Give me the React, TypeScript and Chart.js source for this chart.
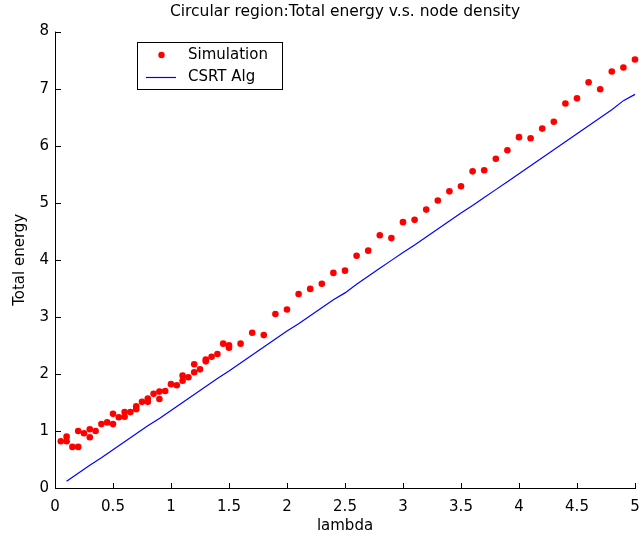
import React, { useEffect, useRef } from 'react';
import { Chart, registerables } from 'chart.js';

Chart.register(...registerables);

const titleText = 'Circular region:Total energy v.s. node density';
const xTitle = 'lambda';
const yTitle = 'Total energy';
const simLabel = 'Simulation';
const algLabel = 'CSRT Alg';

const xTickValues = [0, 0.5, 1, 1.5, 2, 2.5, 3, 3.5, 4, 4.5, 5];
const yTickValues = [0, 1, 2, 3, 4, 5, 6, 7, 8];

const simX = [
  0.05, 0.1, 0.1, 0.15, 0.2, 0.2, 0.25, 0.3, 0.3, 0.35, 0.4, 0.45, 0.5, 0.5, 0.55,
  0.6, 0.6, 0.65, 0.7, 0.7, 0.75, 0.8, 0.8, 0.85, 0.9, 0.9, 0.95, 1.0, 1.05, 1.1,
  1.1, 1.15, 1.2, 1.2, 1.25, 1.3, 1.3, 1.35, 1.4, 1.45, 1.5, 1.5, 1.6, 1.7, 1.8,
  1.9, 2.0, 2.1, 2.2, 2.3, 2.4, 2.5, 2.6, 2.7, 2.8, 2.9, 3.0, 3.1, 3.2, 3.3,
  3.4, 3.5, 3.6, 3.7, 3.8, 3.9, 4.0, 4.1, 4.2, 4.3, 4.4, 4.5, 4.6, 4.7, 4.8,
  4.9, 5.0,
];
const simY = [
  0.82, 0.82, 0.9, 0.72, 0.72, 1.0, 0.96, 1.03, 0.89, 1.0, 1.12, 1.15, 1.12, 1.3, 1.24,
  1.25, 1.33, 1.33, 1.38, 1.43, 1.51, 1.51, 1.57, 1.65, 1.69, 1.56, 1.7, 1.82, 1.8, 1.97,
  1.88, 1.94, 2.17, 2.03, 2.08, 2.25, 2.22, 2.3, 2.35, 2.53, 2.5, 2.46, 2.53, 2.72, 2.68,
  3.05, 3.13, 3.4, 3.49, 3.58, 3.77, 3.81, 4.07, 4.16, 4.43, 4.38, 4.66, 4.7, 4.88, 5.04,
  5.2, 5.29, 5.55, 5.57, 5.77, 5.92, 6.15, 6.13, 6.3, 6.42, 6.74, 6.83, 7.11, 6.99, 7.3,
  7.37, 7.51,
];

const algX = [
  0.1, 0.2, 0.3, 0.4, 0.5, 0.6, 0.7, 0.8, 0.9, 1.0, 1.1, 1.2, 1.3, 1.4, 1.5, 1.6, 1.7,
  1.8, 1.9, 2.0, 2.1, 2.2, 2.3, 2.4, 2.5, 2.6, 2.7, 2.8, 2.9, 3.0, 3.1, 3.2, 3.3, 3.4,
  3.5, 3.6, 3.7, 3.8, 3.9, 4.0, 4.1, 4.2, 4.3, 4.4, 4.5, 4.6, 4.7, 4.8, 4.9, 5.0,
];
const algY = [
  0.12, 0.26, 0.4, 0.53, 0.67, 0.81, 0.95, 1.09, 1.22, 1.36, 1.5, 1.64, 1.78, 1.92, 2.05, 2.19, 2.33,
  2.47, 2.61, 2.75, 2.88, 3.02, 3.16, 3.3, 3.42, 3.57, 3.71, 3.85, 3.99, 4.13, 4.26, 4.4, 4.54, 4.68,
  4.82, 4.95, 5.09, 5.23, 5.37, 5.51, 5.65, 5.79, 5.93, 6.07, 6.21, 6.35, 6.49, 6.63, 6.79, 6.9,
];

const FONT = 'DejaVu Sans';

const axesPlugin = {
  id: 'matlabAxes',
  afterDatasetsDraw(chart: any) {
    const { ctx, chartArea, scales } = chart;
    const { left, right, top, bottom } = chartArea;
    ctx.save();
    ctx.strokeStyle = '#000';
    ctx.lineWidth = 1;
    ctx.beginPath();
    ctx.moveTo(left + 0.5, top);
    ctx.lineTo(left + 0.5, bottom + 1);
    ctx.moveTo(left, bottom + 0.5);
    ctx.lineTo(right + 1, bottom + 0.5);
    const tl = 5;
    scales.x.ticks.forEach((t: any) => {
      const px = Math.round(scales.x.getPixelForValue(t.value)) + 0.5;
      ctx.moveTo(px, bottom);
      ctx.lineTo(px, bottom - tl);
    });
    scales.y.ticks.forEach((t: any) => {
      const py = Math.round(scales.y.getPixelForValue(t.value)) + 0.5;
      ctx.moveTo(left, py);
      ctx.lineTo(left + tl + 1, py);
    });
    ctx.stroke();
    ctx.restore();
  },
};

const legendPlugin = {
  id: 'insideLegend',
  afterDraw(chart: any) {
    const { ctx } = chart;
    const ds = chart.data.datasets;
    const bx = 137.5, by = 42.5, bw = 145, bh = 47;
    ctx.save();
    ctx.fillStyle = '#fff';
    ctx.fillRect(bx, by, bw, bh);
    ctx.strokeStyle = '#000';
    ctx.lineWidth = 1;
    ctx.strokeRect(bx, by, bw, bh);
    ctx.fillStyle = ds[0].pointBackgroundColor;
    ctx.beginPath();
    ctx.arc(161.5, 55, 3.2, 0, Math.PI * 2);
    ctx.fill();
    ctx.strokeStyle = ds[1].borderColor;
    ctx.lineWidth = ds[1].borderWidth;
    ctx.beginPath();
    ctx.moveTo(146, 77.5);
    ctx.lineTo(176, 77.5);
    ctx.stroke();
    ctx.fillStyle = '#000';
    ctx.font = `15px "${FONT}"`;
    ctx.textBaseline = 'middle';
    ctx.textAlign = 'left';
    ctx.fillText(ds[0].label, 188, 55);
    ctx.fillText(ds[1].label, 188, 77);
    ctx.restore();
  },
};

export default function App() {
  const ref = useRef<HTMLCanvasElement>(null);
  useEffect(() => {
    document.body.style.margin = '0';
    const chart = new Chart(ref.current as HTMLCanvasElement, {
      type: 'scatter',
      data: {
        datasets: [
          {
            label: simLabel,
            data: simX.map((x, i) => ({ x, y: simY[i] })),
            showLine: false,
            pointRadius: 3.3,
            pointBorderWidth: 0,
            pointBackgroundColor: '#ff0000',
            pointBorderColor: '#ff0000',
            clip: false,
          } as any,
          {
            label: algLabel,
            data: algX.map((x, i) => ({ x, y: algY[i] })),
            showLine: true,
            borderColor: '#0000ff',
            borderWidth: 1.2,
            pointRadius: 0,
            tension: 0,
            clip: false,
          } as any,
        ],
      },
      options: {
        responsive: false,
        animation: false,
        devicePixelRatio: 1,
        layout: { padding: { top: 0, right: 3, left: 0, bottom: 0 } },
        plugins: {
          legend: { display: false },
          tooltip: { enabled: false },
          title: {
            display: true,
            fullSize: false,
            text: titleText,
            color: '#000',
            font: { family: FONT, size: 15.5, weight: 'normal' },
            padding: { top: 3, bottom: 10 },
          },
        },
        scales: {
          x: {
            type: 'linear',
            min: 0,
            max: 5,
            afterBuildTicks: (s: any) => {
              s.ticks = xTickValues.map((v) => ({ value: v }));
            },
            afterFit: (s: any) => {
              s.height = 51;
              s.paddingLeft = 0;
              s.paddingRight = 0;
            },
            grid: { display: false, drawTicks: false },
            border: { display: false },
            ticks: {
              color: '#000',
              font: { family: FONT, size: 15 },
              padding: 10,
              maxRotation: 0,
              autoSkip: false,
              callback: (v: any) => String(v),
            },
            title: {
              display: true,
              text: xTitle,
              color: '#000',
              font: { family: FONT, size: 15 },
              padding: { top: 0, bottom: 4 },
            },
          },
          y: {
            type: 'linear',
            min: 0,
            max: 8,
            afterBuildTicks: (s: any) => {
              s.ticks = yTickValues.map((v) => ({ value: v }));
            },
            afterFit: (s: any) => {
              s.width = 55;
              s.paddingTop = 0;
              s.paddingBottom = 0;
            },
            grid: { display: false, drawTicks: false },
            border: { display: false },
            ticks: {
              color: '#000',
              font: { family: FONT, size: 15 },
              padding: 6,
              autoSkip: false,
              callback: (v: any) => String(v),
            },
            title: {
              display: true,
              text: yTitle,
              color: '#000',
              font: { family: FONT, size: 15 },
              padding: { top: 11, bottom: 0 },
            },
          },
        },
      } as any,
      plugins: [axesPlugin, legendPlugin],
    });
    return () => chart.destroy();
  }, []);
  return (
    <canvas
      ref={ref}
      width={639}
      height={539}
      style={{ display: 'block', width: '639px', height: '539px' }}
    />
  );
}
